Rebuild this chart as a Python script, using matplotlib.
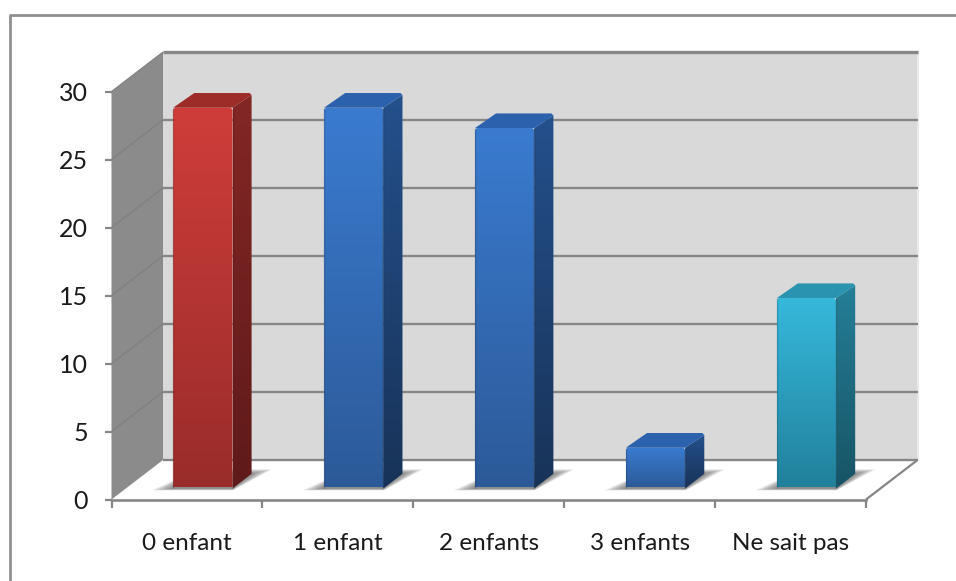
import numpy as np
import matplotlib
matplotlib.use("Agg")
import matplotlib.pyplot as plt
from matplotlib.patches import Polygon
from matplotlib.transforms import IdentityTransform
from matplotlib.colors import LinearSegmentedColormap, to_rgb

categories = ["0 enfant", "1 enfant", "2 enfants", "3 enfants", "Ne sait pas"]
values = [28, 28, 26.5, 3, 14]
front_top = ["#cf3d3a", "#3a7bd0", "#3a7bd0", "#3a7bd0", "#36b9dc"]
front_bot = ["#992c2a", "#2c5a98", "#2c5a98", "#2c5a98", "#21809b"]
side_top = ["#832725", "#24508c", "#24508c", "#24508c", "#257f98"]
side_bot = ["#5f1a1a", "#183358", "#183358", "#183358", "#175465"]
roof = ["#9d2b28", "#2b61ad", "#2b61ad", "#2b61ad", "#2a93b0"]
yticks = [0, 5, 10, 15, 20, 25, 30]

GRID = "#868686"
W, H = 956, 581
fig = plt.figure(figsize=(W / 100, H / 100), dpi=100, facecolor="white")

# frame of the chart area, running off the right and bottom of the picture
fig.add_artist(plt.Line2D([10.2 / W, 10.2 / W, 1], [0, 1 - 15.3 / H, 1 - 15.3 / H],
                          color="#8f8f8f", lw=2.0, transform=fig.transFigure))

ax = fig.add_axes([111.5 / W, (H - 499.5) / H, 754.5 / W, 408 / H])
ax.set_xlim(0, len(categories))
ax.set_ylim(0, 30)
ax.patch.set_visible(False)
ax.set_autoscale_on(False)
for s in ("left", "right", "top"):
    ax.spines[s].set_visible(False)
ax.spines["bottom"].set_color(GRID)
ax.spines["bottom"].set_linewidth(1.9)
ax.spines["bottom"].set_zorder(3)

DX, DY = 51.5, 39.5  # full depth of the floor, in pixels


def P(x, y, d=0.0):
    px, py = ax.transData.transform((x, y))
    return (px + d * DX, py + d * DY)


ID = IdentityTransform()


def poly(pts, color, z, **kw):
    p = Polygon(pts, closed=True, facecolor=color, edgecolor="none",
                transform=ID, zorder=z, clip_on=False, **kw)
    ax.add_patch(p)
    return p


def line(a, b, color=GRID, lw=1.9, z=2, alpha=1):
    ax.plot([a[0], b[0]], [a[1], b[1]], color=color, lw=lw, transform=ID,
            zorder=z, clip_on=False, alpha=alpha, solid_capstyle="butt")


def gradient(pts, top, bottom, z):
    pts = np.array(pts)
    p = poly(pts, "none", z)
    cmap = LinearSegmentedColormap.from_list("g", [to_rgb(top), to_rgb(bottom)])
    g = np.linspace(0, 1, 256).reshape(-1, 1)
    ext = (pts[:, 0].min(), pts[:, 0].max(), pts[:, 1].min(), pts[:, 1].max())
    im = ax.imshow(g, cmap=cmap, extent=ext, origin="upper", aspect="auto",
                   transform=ID, zorder=z, interpolation="bilinear")
    im.set_clip_box(fig.bbox)
    im.set_clip_path(p)
    return im


n = len(categories)
# back wall
poly([P(0, 0, 1), P(n, 0, 1), P(n, 30, 1), P(0, 30, 1)], "#d9d9d9", 1)
line(P(n, 0, 1), P(n, 30, 1), color="#e9e9e9", lw=1.5, z=1.2)
# left wall
poly([P(0, 0), P(0, 0, 1), P(0, 30, 1), P(0, 30)], "#8b8b8b", 1)
# floor edges, grid
for v in yticks:
    lw = 2.4 if v == 30 else 1.7
    if v != 0:
        line(P(0, v, 1), P(n, v, 1), lw=lw, z=1.5)
        line(P(0, v), P(0, v, 1), color="#7f7f7f", lw=0.8, z=1.5)
line(P(0, 0, 1), P(n, 0, 1), lw=1.7, z=1.5)
line(P(n, 0), P(n, 0, 1), lw=1.6, z=1.5)

# bars
WIDTH = 0.393
D0, D1 = 0.28, 0.65
SHIFT = 0.01
for i, v in enumerate(values):
    c = i + 0.5 + SHIFT
    x0, x1 = c - WIDTH / 2, c + WIDTH / 2
    # soft floor shadow: layers shrinking from the outer blur to the bar foot
    N = 26
    for k in range(N):
        t = k / (N - 1)
        s = 1 - t
        a = P(x0 - 0.13 * s, 0, D0 - 0.05 * s)
        b = P(x1 + 0.02 * s, 0, D0 - 0.05 * s)
        e = P(x1 + 0.10 * s, 0, D1 + 0.12 * s)
        f = P(x0, 0, D1 + 0.12 * s)
        poly([a, b, e, f], "#5a5a5a", 2.1, alpha=0.04)

    fl, fr = P(x0, 0, D0), P(x1, 0, D0)
    tl, tr = P(x0, v, D0), P(x1, v, D0)
    bl2, br2 = P(x0, 0, D1), P(x1, 0, D1)
    tl2, tr2 = P(x0, v, D1), P(x1, v, D1)
    cut = 2.0
    gradient([(fl[0], fl[1] + 1), (fr[0], fr[1] + 1), (tr[0], tr[1] - cut),
              (tr[0] - cut, tr[1]), (tl[0] + cut, tl[1]), (tl[0], tl[1] - cut)],
             front_top[i], front_bot[i], 3)
    gradient([fr, br2, (tr2[0], tr2[1] - cut), tr], side_top[i], side_bot[i], 3)
    poly([tl, tr, (tr2[0], tr2[1] - cut), (tr2[0] - cut, tr2[1]), (tl2[0] + cut, tl2[1])],
         roof[i], 3)
    line(fr, tr, color=side_bot[i], lw=1.0, z=3.2, alpha=0.45)
    line(fl, tl, color=side_bot[i], lw=1.0, z=3.2, alpha=0.3)

# axes furniture
ax.set_yticks(yticks)
ax.set_yticklabels([str(v) for v in yticks])
ax.set_xticks(range(n + 1))
ax.set_xticklabels([""] * (n + 1))
ax.set_xticks(np.arange(n) + 0.5, minor=True)
ax.set_xticklabels(categories, minor=True)
ax.tick_params(axis="y", length=5, width=1.6, color=GRID, pad=12, labelsize=18,
               labelcolor="#1a1a1a", labelfontfamily="Lato")
ax.tick_params(axis="x", which="major", length=6, width=1.6, color=GRID)
ax.tick_params(axis="x", which="minor", length=0, pad=24, labelsize=17.5,
               labelcolor="#1a1a1a", labelfontfamily="Lato")

fig.savefig("out.png", dpi=100, facecolor="white")
